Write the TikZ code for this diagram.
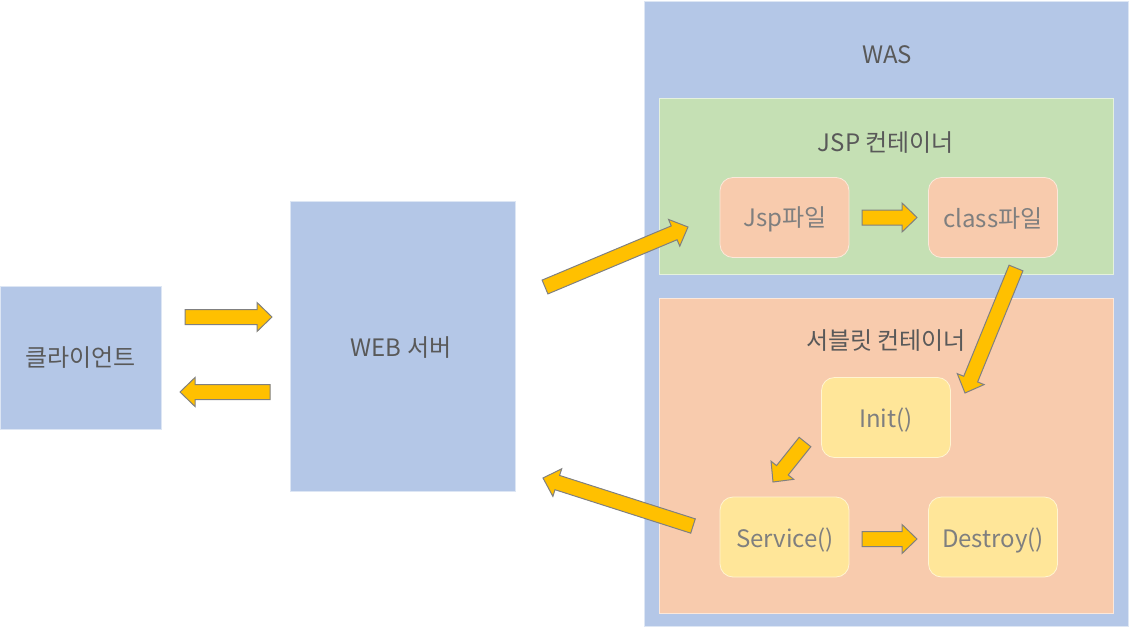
\documentclass[tikz,border=0pt]{standalone}
\usepackage{fontspec}
\setmainfont{Noto Sans CJK KR}
\usetikzlibrary{calc}

\definecolor{wasblue}{HTML}{B4C7E7}
\definecolor{jspgreen}{HTML}{C5E0B4}
\definecolor{servpeach}{HTML}{F8CBAD}
\definecolor{methyellow}{HTML}{FFE699}
\definecolor{arrowgold}{HTML}{FFC000}
\definecolor{txtdark}{HTML}{595959}
\definecolor{txtgray}{HTML}{7F7F7F}
\definecolor{arrowline}{HTML}{808080}

\tikzset{
  box/.style={rectangle,inner sep=0pt,line width=0.8pt,text=txtdark,
    font=\fontsize{24}{28}\selectfont},
  bluebox/.style={box,fill=wasblue,draw=white!55!wasblue},
  greenbox/.style={box,fill=jspgreen,draw=white!55!jspgreen},
  peachbox/.style={box,fill=servpeach,draw=white!55!servpeach},
  roundbox/.style={box,rounded corners=13pt,text=txtgray,
    minimum width=129pt,minimum height=80pt},
  filebox/.style={roundbox,fill=servpeach,draw=white!55!servpeach},
  methbox/.style={roundbox,fill=methyellow,draw=white!55!methyellow},
  title/.style={text=txtdark,font=\fontsize{24}{28}\selectfont,inner sep=0pt},
  label/.style={text=txtgray,font=\fontsize{24}{28}\selectfont,inner sep=0pt},
  fatarrow/.style={fill=arrowgold,draw=arrowline,line width=1pt,line join=miter}
}

% block arrow from #1 (tail centre) to #2 (tip)
\newcommand{\fatarrow}[2]{%
  \draw[fatarrow] let \p1=($(#2)-(#1)$), \n1={atan2(\y1,\x1)},
      \n2={veclen(\x1,\y1)-15}, \n3={\n1+90}, \n4={\n1-90} in
    ($(#1)+(\n3:7.5)$) -- ($(#1)+(\n1:\n2)+(\n3:7.5)$)
    -- ($(#1)+(\n1:\n2)+(\n3:14.5)$) -- (#2)
    -- ($(#1)+(\n1:\n2)+(\n4:14.5)$) -- ($(#1)+(\n1:\n2)+(\n4:7.5)$)
    -- ($(#1)+(\n4:7.5)$) -- cycle;}

\begin{document}
\begin{tikzpicture}[x=1pt,y=1pt]
  \useasboundingbox (0,0) rectangle (1130,-627);

  % client and web server
  \node[bluebox,minimum width=161pt,minimum height=143pt] (client) at (80.5,-357.5) {};
  \node[title] (clienttext) at (80.5,-358) {클라이언트};
  \node[bluebox,minimum width=225pt,minimum height=290pt] (web) at (402.5,-346) {};
  \node[title] (webtext) at (401,-348) {WEB 서버};

  % WAS and its containers
  \node[bluebox,minimum width=484pt,minimum height=625pt] (was) at (886,-313.5) {};
  \node[title] (wastitle) at (887,-55) {WAS};
  \node[greenbox,minimum width=454pt,minimum height=176pt] (jsp) at (886,-186) {};
  \node[title] (jsptitle) at (886,-143) {JSP 컨테이너};
  \node[peachbox,minimum width=454pt,minimum height=315pt] (servlet) at (886,-455.5) {};
  \node[title] (servtitle) at (886,-341) {서블릿 컨테이너};

  \node[filebox] (jspfile) at (784.5,-217.5) {};
  \node[label] at (785,-219) {Jsp파일};
  \node[filebox] (classfile) at (993,-217.5) {};
  \node[label] at (993,-219) {class파일};
  \node[methbox] (init) at (886,-417.5) {};
  \node[label] at (886,-420) {Init()};
  \node[methbox] (service) at (784.5,-537) {};
  \node[label] at (785,-540) {Service()};
  \node[methbox] (destroy) at (993,-537) {};
  \node[label] at (993,-540) {Destroy()};

  % arrow end points
  \coordinate (cw-s) at (185,-317);
  \coordinate (cw-e) at (272,-317);
  \coordinate (wc-s) at (270,-392);
  \coordinate (wc-e) at (180,-392);
  \coordinate (wj-s) at (545,-287);
  \coordinate (wj-e) at (688,-227);
  \coordinate (jc-s) at (862,-217.5);
  \coordinate (jc-e) at (917,-217.5);
  \coordinate (ci-s) at (1016,-268);
  \coordinate (ci-e) at (965,-393);
  \coordinate (is-s) at (805,-442);
  \coordinate (is-e) at (773,-482);
  \coordinate (sw-s) at (693,-526);
  \coordinate (sw-e) at (543,-478);
  \coordinate (sd-s) at (862,-539);
  \coordinate (sd-e) at (917,-539);

  \fatarrow{cw-s}{cw-e}
  \fatarrow{wc-s}{wc-e}
  \fatarrow{wj-s}{wj-e}
  \fatarrow{jc-s}{jc-e}
  \fatarrow{ci-s}{ci-e}
  \fatarrow{is-s}{is-e}
  \fatarrow{sw-s}{sw-e}
  \fatarrow{sd-s}{sd-e}
\end{tikzpicture}
\end{document}
